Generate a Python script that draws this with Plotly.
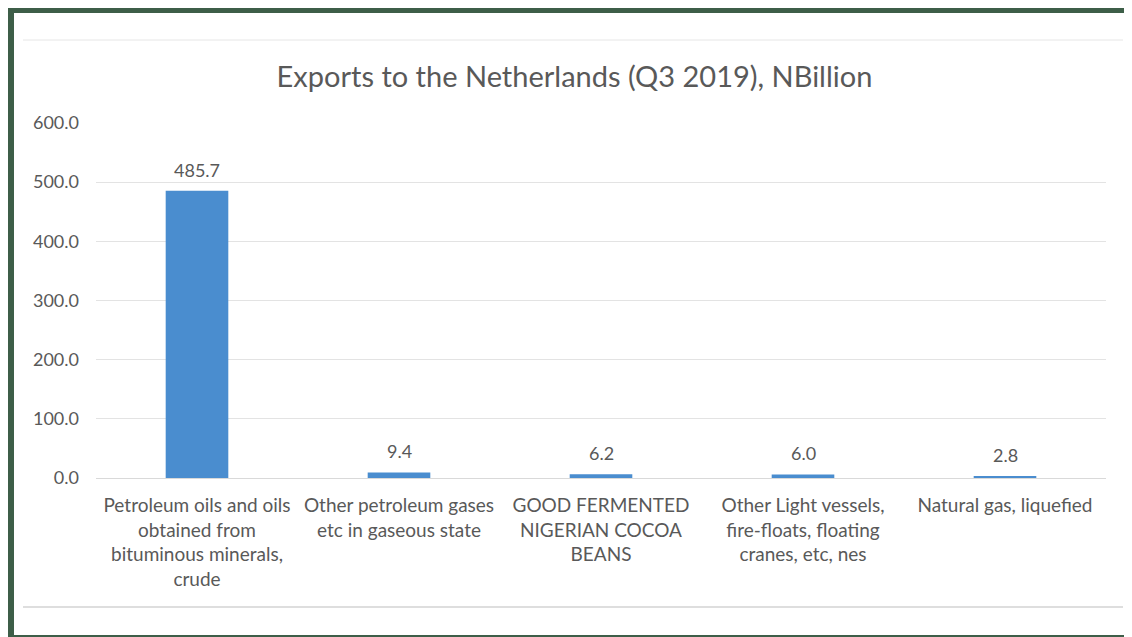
import plotly.graph_objects as go

categories = [
    "Petroleum oils and oils<br>obtained from<br>bituminous minerals,<br>crude",
    "Other petroleum gases<br>etc in gaseous state",
    "GOOD FERMENTED<br>NIGERIAN COCOA<br>BEANS",
    "Other Light vessels,<br>fire-floats, floating<br>cranes, etc, nes",
    "Natural gas, liquefied",
]
values = [485.7, 9.4, 6.2, 6.0, 2.8]
labels = ["485.7", "9.4", "6.2", "6.0", "2.8"]
title_text = "Exports to the Netherlands (Q3 2019), NBillion"
tick_vals = [0, 100, 200, 300, 400, 500, 600]
tick_text = ["0.0", "100.0", "200.0", "300.0", "400.0", "500.0", "600.0"]

FONT = "Lato"
GRAY = "#595959"
GREEN = "#3d5e48"

# page offset of 8px (body margin) compensated: figure is 1124x629
W, H = 1124, 629
PL, PR, PT, PB = 96, 1106, 123, 478  # plot area in page pixels


def dx(px):
    return (px - PL) / (PR - PL)


def dy(py):
    return (PB - py) / (PB - PT)


fig = go.Figure(go.Bar(
    x=categories, y=values,
    marker=dict(color="#4a8dcf", line=dict(width=0)),
    hoverinfo="x+y",
))

for c, v, t in zip(categories, values, labels):
    fig.add_annotation(x=c, y=v, text=t, showarrow=False, yanchor="bottom", yshift=8,
                       font=dict(family=FONT, size=18, color=GRAY))

fig.update_layout(
    width=W, height=H,
    paper_bgcolor="white", plot_bgcolor="white",
    margin=dict(l=PL - 8, r=W - (PR - 8), t=PT - 8, b=H - (PB - 8), autoexpand=False),
    bargap=0.69,
    showlegend=False,
    title=dict(text=title_text, x=(574.5 - 8) / W, xanchor="center", y=1 - (77 - 8) / H, yanchor="middle",
               font=dict(family=FONT, size=29, color=GRAY)),
    font=dict(family=FONT, color=GRAY),
    xaxis=dict(tickfont=dict(family=FONT, size=19, color=GRAY), showgrid=False,
               showline=False, ticks="", tickangle=0, ticklabelstandoff=14),
    yaxis=dict(range=[0, 600], tickvals=tick_vals, ticktext=tick_text,
               tickfont=dict(family=FONT, size=18, color=GRAY),
               gridcolor="#e3e3e3", gridwidth=1, zeroline=True, zerolinecolor="#d9d9d9",
               zerolinewidth=1, showline=False, ticks="", ticklabelstandoff=16),
    shapes=[
        dict(type="rect", xref="paper", yref="paper", x0=dx(5), x1=dx(14), y0=dy(637), y1=dy(6),
             fillcolor=GREEN, line=dict(width=0), layer="above"),
        dict(type="rect", xref="paper", yref="paper", x0=dx(5), x1=dx(1132), y0=dy(13), y1=dy(6),
             fillcolor=GREEN, line=dict(width=0), layer="above"),
        dict(type="rect", xref="paper", yref="paper", x0=dx(5), x1=dx(1132), y0=dy(637), y1=dy(635),
             fillcolor=GREEN, line=dict(width=0), layer="above"),
        dict(type="line", xref="paper", yref="paper", x0=dx(23), x1=dx(1123), y0=dy(40), y1=dy(40),
             line=dict(color="#e6e6e6", width=1)),
        dict(type="line", xref="paper", yref="paper", x0=dx(23), x1=dx(1123), y0=dy(607), y1=dy(607),
             line=dict(color="#dedede", width=2)),
    ],
)

fig.write_html("out.html")
